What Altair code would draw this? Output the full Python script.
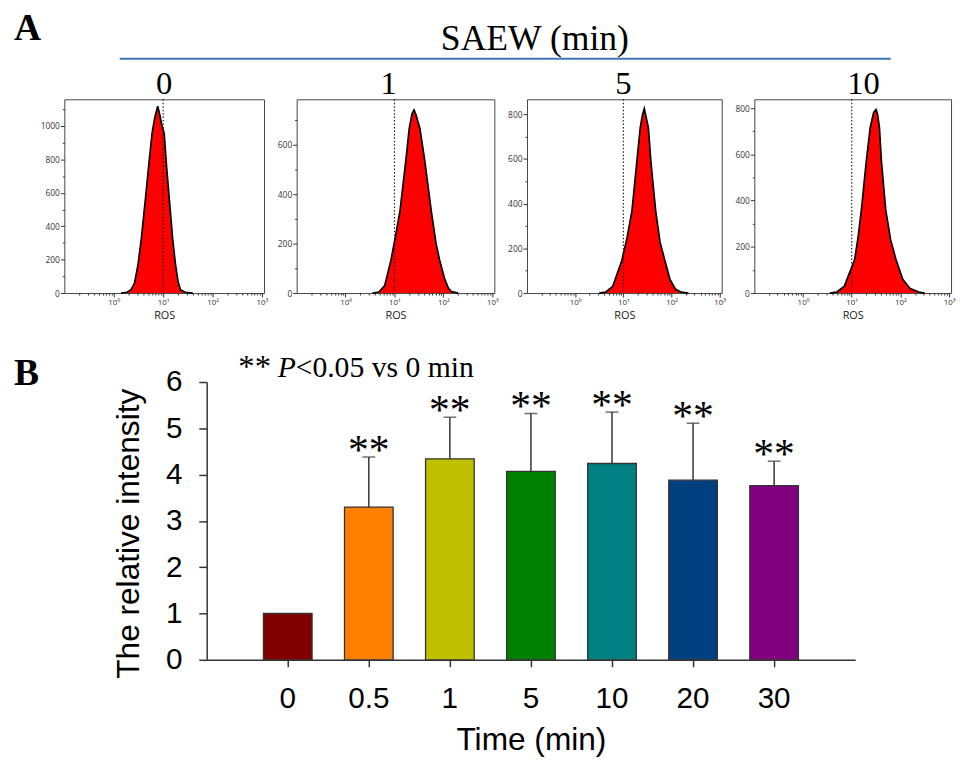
import altair as alt
import pandas as pd

# ---------------- Panel A : ROS flow-cytometry histograms ----------------
panel_titles = ["0", "1", "5", "10"]

ros_0 = [1.41, 1.86, 2.24, 2.63, 3.09, 3.63, 4.37, 5.13, 5.96, 6.76, 7.76, 8.51,
         9.33, 10.5, 11.7, 13.3, 15.5, 17.8, 20.0, 22.4, 28.2, 39.8]
count_0 = [0, 5, 20, 60, 168, 330, 562, 770, 956, 1050, 1118, 1070,
           1010, 956, 760, 562, 330, 168, 70, 20, 4, 0]

ros_1 = [3.55, 4.79, 6.31, 8.51, 10.5, 13.0, 17.0, 20.0, 22.9, 25.1, 27.5, 33.1,
         41.7, 56.2, 70.8, 83.2, 105, 126, 145, 200]
count_1 = [0, 4, 30, 135, 230, 334, 533, 665, 725, 740, 720, 665,
           533, 334, 200, 135, 60, 20, 6, 0]

ros_5 = [3.16, 4.27, 6.03, 9.33, 12.0, 15.1, 19.1, 22.4, 25.1, 27.2, 29.5, 33.1,
         37.2, 46.8, 57.5, 72.4, 93.3, 120, 158, 224]
count_5 = [0, 4, 30, 147, 250, 369, 591, 739, 800, 825, 790, 739,
           591, 369, 230, 147, 60, 18, 4, 0]

ros_10 = [3.55, 4.90, 7.08, 11.5, 13.5, 15.8, 20.0, 24.0, 28.2, 31.6, 33.9, 37.2,
          40.7, 50.1, 63.1, 81.3, 112, 158, 240, 316]
count_10 = [0, 4, 30, 145, 240, 359, 573, 715, 780, 794, 775, 715,
            573, 359, 230, 145, 60, 20, 4, 0]

ros_lists = [ros_0, ros_1, ros_5, ros_10]
count_lists = [count_0, count_1, count_5, count_10]
y_max = [1160, 783, 867, 838]
y_top_tick = [1100, 700, 800, 800]
gate_ros = 10
x_major = [1, 10, 100, 1000]
x_minor = [0.2, 0.3, 0.4, 0.5, 0.6, 0.7, 0.8, 0.9,
           2, 3, 4, 5, 6, 7, 8, 9,
           20, 30, 40, 50, 60, 70, 80, 90,
           200, 300, 400, 500, 600, 700, 800, 900]

# ---------------- Panel B : relative intensity bars ----------------
times = ["0", "0.5", "1", "5", "10", "20", "30"]
intensity = [1.0, 3.30, 4.34, 4.07, 4.24, 3.88, 3.76]
sd = [0.0, 1.08, 0.90, 1.25, 1.11, 1.23, 0.53]
stars = ["", "**", "**", "**", "**", "**", "**"]
bar_colors = ["#800000", "#FF8000", "#C0C000", "#008000", "#008080", "#004080", "#800080"]

SERIF = "Liberation Serif"
SANS = "Liberation Sans"
SMALL = "Open Sans"

panel_widths = [202, 200, 197, 199]
title_dx = [0, -7, -1, 11]


def hist_panel(i):
    df = pd.DataFrame({"ros": ros_lists[i], "count": count_lists[i]})
    xvals = sorted(x_major + x_minor)
    x_axis = alt.Axis(
        values=xvals,
        labelExpr="datum.value == 1 ? '10\u2070' : datum.value == 10 ? '10\u00b9' : "
                  "datum.value == 100 ? '10\u00b2' : datum.value == 1000 ? '10\u00b3' : ''",
        tickSize={"condition": {"test": "indexof([1,10,100,1000], datum.value) >= 0", "value": 4}, "value": 2},
        labelFont=SMALL, labelFontSize=8, labelColor="#333", labelPadding=2,
        labelOverlap=False, labelFlush=False,
        title="ROS", titleFont=SMALL, titleFontSize=11, titleFontWeight="normal",
        titleColor="#222", titlePadding=3,
        domain=False, tickColor="#333", grid=False,
    )
    yvals = list(range(0, y_top_tick[i] + 1, 100))
    y_axis = alt.Axis(
        values=yvals,
        labelExpr="datum.value % 200 == 0 ? datum.label : ''",
        tickSize={"condition": {"test": "datum.value % 200 == 0", "value": 4}, "value": 2},
        labelFont=SMALL, labelFontSize=8.5, labelColor="#333", labelPadding=1,
        title=None, domain=False, tickColor="#333", grid=False, format="d",
    )
    xs = alt.X("ros:Q", scale=alt.Scale(type="log", domain=[0.1, 1100], nice=False), axis=x_axis)
    ys = alt.Y("count:Q", scale=alt.Scale(domain=[0, y_max[i]], nice=False), axis=y_axis)

    area = alt.Chart(df).mark_area(
        color="#FF0000", opacity=1, interpolate="linear",
        line=alt.OverlayMarkDef(color="black", strokeWidth=1.7),
    ).encode(x=xs, y=ys)

    gate = alt.Chart(pd.DataFrame({"ros": [gate_ros]})).mark_rule(
        color="#222", strokeDash=[1.5, 2], strokeWidth=1.2
    ).encode(x=xs)

    ttl = alt.Chart(pd.DataFrame({"t": [panel_titles[i]]})).mark_text(
        font=SERIF, fontSize=33, align="center", baseline="alphabetic", color="black"
    ).encode(x=alt.value(panel_widths[i] / 2 + title_dx[i]), y=alt.value(-5), text="t:N")

    layers = [area, gate, ttl]
    if i == 0:
        a_lbl = alt.Chart(pd.DataFrame({"t": ["A"]})).mark_text(
            font=SERIF, fontSize=38, fontWeight="bold", align="left", baseline="alphabetic", color="black"
        ).encode(x=alt.value(-51), y=alt.value(-60), text="t:N")
        saew = alt.Chart(pd.DataFrame({"t": ["SAEW (min)"]})).mark_text(
            font=SERIF, fontSize=36, align="center", baseline="alphabetic", color="black"
        ).encode(x=alt.value(476), y=alt.value(-50), text="t:N")
        line = alt.Chart(pd.DataFrame({"k": [0]})).mark_rule(
            color="#3E74B8", strokeWidth=2
        ).encode(x=alt.value(56), x2=alt.value(836), y=alt.value(-41))
        layers += [a_lbl, saew, line]

    return alt.layer(*layers).properties(
        width=panel_widths[i], height=196,
        view=alt.ViewBackground(stroke="#444", strokeWidth=1),
    )


hist_row = alt.hconcat(*[hist_panel(i) for i in range(4)], spacing=33, bounds="flush")

bdf = pd.DataFrame({"time": times, "val": intensity, "sd": sd, "star": stars})
bdf["top"] = bdf["val"] + bdf["sd"]

x_enc = alt.X(
    "time:N", sort=times,
    scale=alt.Scale(range=[144, 800], paddingInner=0.4, paddingOuter=0.7),
    axis=alt.Axis(
        title="Time (min)", labelAngle=0, labelFont=SANS, labelFontSize=30, labelColor="black",
        labelPadding=17, tickSize=7, tickColor="#333", tickWidth=1.5, domainColor="#333",
        domainWidth=1.5, titleFont=SANS, titleFontSize=32, titleFontWeight="normal",
        titleColor="black", titlePadding=12,
    ),
)
y_enc = alt.Y(
    "val:Q", scale=alt.Scale(domain=[0, 6], nice=False),
    axis=alt.Axis(
        values=[0, 1, 2, 3, 4, 5, 6], offset=-144, tickSize=8, labelPadding=17,
        labelFont=SANS, labelFontSize=30, labelColor="black", tickColor="#333", tickWidth=1.5,
        domainColor="#333", domainWidth=1.5, grid=False,
        title="The relative intensity", titleFont=SANS, titleFontSize=32,
        titleFontWeight="normal", titleColor="black", titlePadding=20, titleY=153,
    ),
)

bars = alt.Chart(bdf).mark_bar(stroke="#333", strokeWidth=1.3).encode(
    x=x_enc, y=y_enc,
    color=alt.Color("time:N", scale=alt.Scale(domain=times, range=bar_colors), legend=None),
)
err = alt.Chart(bdf).transform_filter("datum.sd > 0").mark_rule(color="#333", strokeWidth=1.5).encode(
    x=alt.X("time:N", sort=times), y="val:Q", y2="top:Q"
)
cap = alt.Chart(bdf).transform_filter("datum.sd > 0").mark_tick(
    color="#333", size=13, thickness=1.5
).encode(x=alt.X("time:N", sort=times), y="top:Q")
star_txt = alt.Chart(bdf).mark_text(
    font=SERIF, fontSize=42, baseline="alphabetic", dy=7, color="black"
).encode(x=alt.X("time:N", sort=times), y="top:Q", text="star:N")

b_lbl = alt.Chart(pd.DataFrame({"t": ["B"]})).mark_text(
    font=SERIF, fontSize=38, fontWeight="bold", align="left", baseline="alphabetic", color="black"
).encode(x=alt.value(-51), y=alt.value(3), text="t:N")
note_star = alt.Chart(pd.DataFrame({"t": ["**"]})).mark_text(
    font=SERIF, fontSize=33, align="left", baseline="alphabetic", color="black"
).encode(x=alt.value(176), y=alt.value(-5), text="t:N")
note_p = alt.Chart(pd.DataFrame({"t": ["P"]})).mark_text(
    font=SERIF, fontSize=30, fontStyle="italic", align="left", baseline="alphabetic", color="black"
).encode(x=alt.value(216), y=alt.value(-5), text="t:N")
note_rest = alt.Chart(pd.DataFrame({"t": ["<0.05 vs 0 min"]})).mark_text(
    font=SERIF, fontSize=30, align="left", baseline="alphabetic", color="black"
).encode(x=alt.value(234), y=alt.value(-5), text="t:N")

bar_chart = alt.layer(bars, err, cap, star_txt, b_lbl, note_star, note_p, note_rest).properties(
    width=800, height=281, view=alt.ViewBackground(stroke=None)
)

chart = alt.vconcat(hist_row, bar_chart, spacing=30).properties(
    padding={"left": 5, "top": -3, "right": 0, "bottom": 0}
).configure(background="white")

chart.save("out.html", embed_options={"renderer": "svg", "actions": False})
